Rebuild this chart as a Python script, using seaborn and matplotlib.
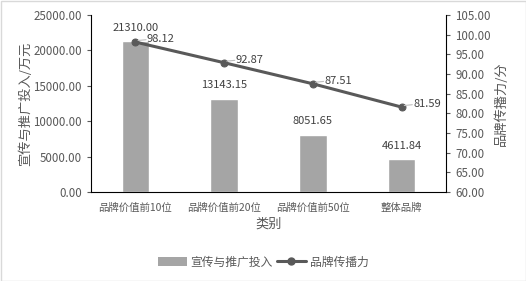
import matplotlib
matplotlib.use("Agg")
import matplotlib.pyplot as plt
import seaborn as sns
import pandas as pd
from matplotlib.patches import Rectangle
from matplotlib.lines import Line2D
from matplotlib.patches import Patch

sns.set_style("white")
plt.rcParams['font.family'] = ['Noto Sans CJK SC', 'DejaVu Sans']

categories = ["品牌价值前10位", "品牌价值前20位", "品牌价值前50位", "整体品牌"]
investment = [21310.00, 13143.15, 8051.65, 4611.84]
influence = [98.12, 92.87, 87.51, 81.59]
left_ticks = [0, 5000, 10000, 15000, 20000, 25000]
right_ticks = [60, 65, 70, 75, 80, 85, 90, 95, 100, 105]

df = pd.DataFrame({"类别": categories, "投入": investment, "传播力": influence, "pos": range(len(categories))})

tick_color = "#595959"
text_color = "#404040"
bar_color = "#A5A5A5"
line_color = "#595959"

fig = plt.figure(figsize=(5.26, 2.81), dpi=100)
ax = fig.add_axes([91/526, 1 - 192/281, (446-91)/526, (192-15)/281])

sns.barplot(data=df, x="类别", y="投入", color=bar_color, width=0.31, ax=ax, saturation=1)
ax.set_ylim(0, 25000)
ax.set_yticks(left_ticks)
ax.set_yticklabels([f"{t:.2f}" for t in left_ticks])
ax.set_xlim(-0.5, 3.5)

for i, v in enumerate(investment):
    ax.text(i, v + 1200, f"{v:.2f}", ha="center", va="bottom", fontsize=8, color=text_color)

ax2 = ax.twinx()
sns.lineplot(data=df, x="pos", y="传播力", color=line_color, marker="o", markersize=5,
             linewidth=2.2, markeredgecolor=line_color, ax=ax2, legend=False)
ax2.set_ylim(60, 105)
ax2.set_yticks(right_ticks)
ax2.set_yticklabels([f"{t:.2f}" for t in right_ticks])
ax2.set_xlim(-0.5, 3.5)

for i, v in enumerate(influence):
    ax2.plot([i + 0.03, i + 0.12], [v + 0.4, v + 0.6], color="#bfbfbf", linewidth=0.8)
    ax2.text(i + 0.13, v + 0.8, f"{v:.2f}", ha="left", va="center", fontsize=8, color=text_color)

for a in (ax, ax2):
    for s in a.spines.values():
        s.set_visible(False)
    a.tick_params(axis="both", labelsize=8.3, colors=tick_color, length=3)
    a.grid(False)
ax.spines["left"].set_visible(True)
ax.spines["bottom"].set_visible(True)
ax.spines["left"].set_color("black")
ax.spines["bottom"].set_color("black")
ax2.spines["right"].set_visible(True)
ax2.spines["right"].set_color("black")
ax.tick_params(axis="y", left=True, direction="out")
ax.tick_params(axis="x", bottom=False, labelsize=7.5, pad=5)
ax2.tick_params(axis="y", right=True, direction="out")

ax.set_xlabel("类别", fontsize=9.5, color=tick_color, labelpad=3)
ax.set_ylabel("宣传与推广投入/万元", fontsize=9.5, color=tick_color)
ax2.set_ylabel("品牌传播力/分", fontsize=9.5, color=tick_color)
ax2.set_xlabel("")
ax.yaxis.set_label_coords((32 - 91) / 355, 0.5)
ax2.yaxis.set_label_coords((494 - 91) / 355, 0.5)

handles = [Patch(facecolor=bar_color, edgecolor="none"),
           Line2D([0], [0], color=line_color, marker="o", linewidth=2.2, markersize=5)]
fig.legend(handles, ["宣传与推广投入", "品牌传播力"], loc="center", bbox_to_anchor=(0.5, 1 - 262/281),
           ncol=2, frameon=False, fontsize=8.5, labelcolor=tick_color, handlelength=2.5,
           columnspacing=0.3, handletextpad=0.3)

fig.patches.append(Rectangle((0.5/526, 0.5/281), 1 - 1/526, 1 - 1/281, transform=fig.transFigure,
                             fill=False, edgecolor="#d9d9d9", linewidth=1))

fig.savefig("out.png", dpi=100)
